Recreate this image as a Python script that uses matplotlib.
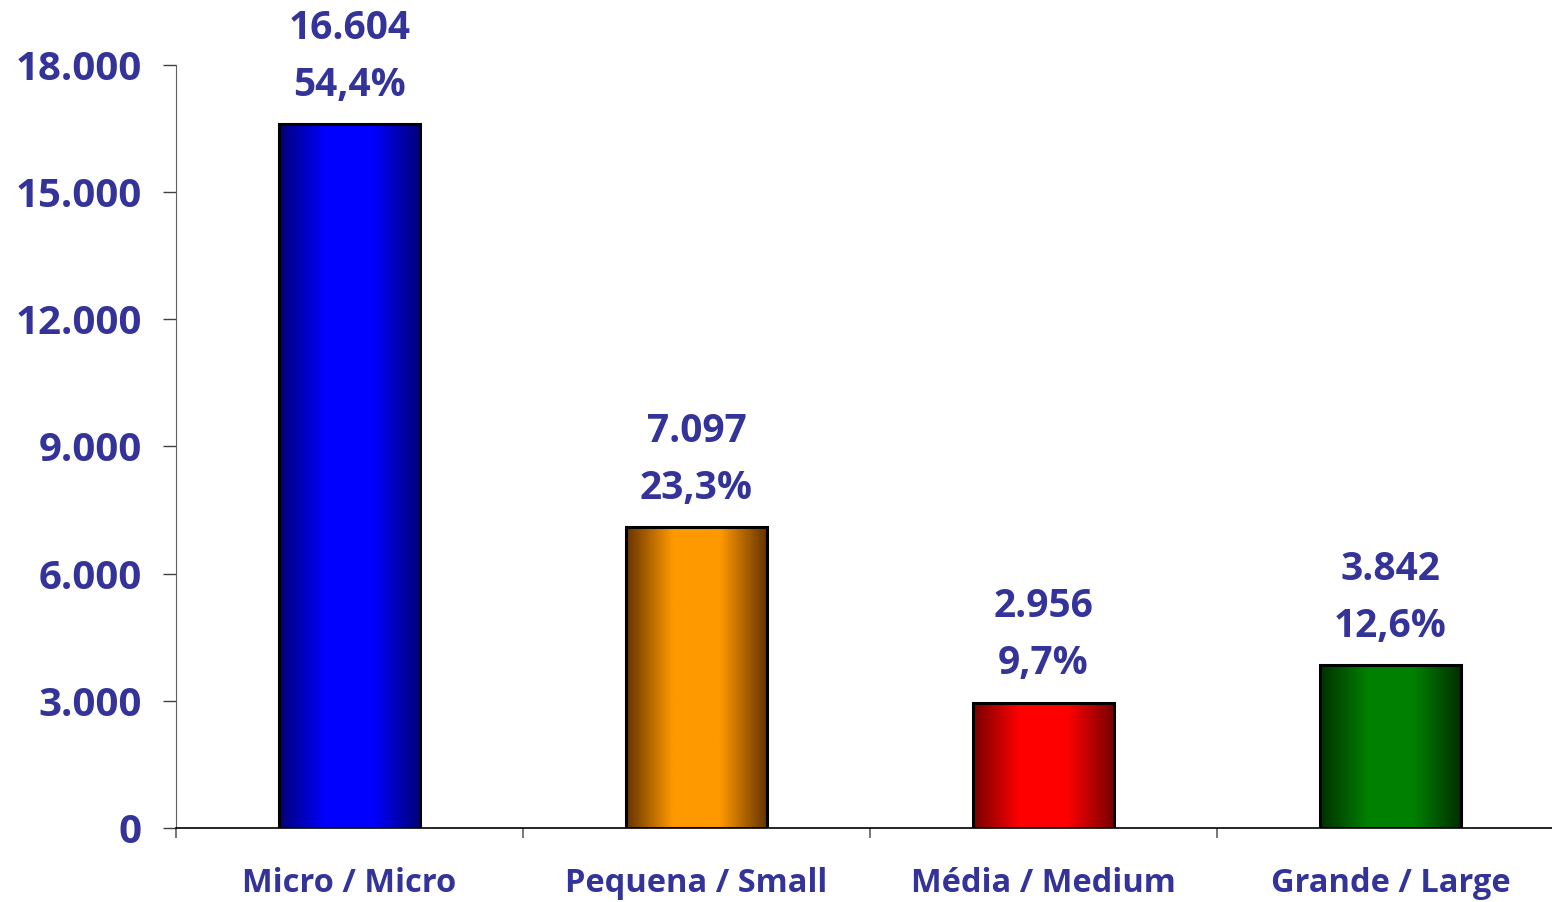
import numpy as np
import matplotlib.pyplot as plt
from matplotlib.colors import LinearSegmentedColormap

plt.rcParams['font.family'] = ['Open Sans', 'DejaVu Sans']
plt.rcParams['font.weight'] = 'bold'

categories = ['Micro / Micro', 'Pequena / Small', 'Média / Medium', 'Grande / Large']
values = [16604, 7097, 2956, 3842]
shares = ['54,4%', '23,3%', '9,7%', '12,6%']
centre_colors = ['#0000ff', '#ff9900', '#ff0000', '#008000']
edge_colors = ['#000078', '#663300', '#780000', '#003000']
yticks = [0, 3000, 6000, 9000, 12000, 15000, 18000]

text_color = '#333399'

fig = plt.figure(figsize=(15.52, 9.02), dpi=100)
ax = fig.add_axes([176/1552, 1-828/902, (1564-176)/1552, (828-65)/902])

x = np.arange(len(categories))
width = 0.406
bars = ax.bar(x, values, width=width, facecolor='none', edgecolor='black',
              linewidth=2.2, zorder=3)

# horizontal gradient inside every bar
grad = np.linspace(0, 1, 256).reshape(1, -1)
for b, c0, c1 in zip(bars, centre_colors, edge_colors):
    cmap = LinearSegmentedColormap.from_list('g', [c1, c0, c0, c1], N=256)
    x0 = b.get_x()
    im = ax.imshow(grad, cmap=cmap, aspect='auto', extent=[x0, x0 + b.get_width(), 0, b.get_height()],
                   zorder=2, interpolation='bicubic')
    im.set_clip_path(b)

for xi, v, s in zip(x, values, shares):
    ax.annotate(s, (xi, v), xytext=(0, 28), textcoords='offset points', ha='center', va='center',
                fontsize=28, color=text_color, fontweight='bold')
    ax.annotate(f'{v:,}'.replace(',', '.'), (xi, v), xytext=(0, 69), textcoords='offset points',
                ha='center', va='center', fontsize=28, color=text_color, fontweight='bold')

ax.set_xlim(-0.5, len(categories) - 0.5)
ax.set_ylim(0, 18000)
ax.set_yticks(yticks)
ax.set_yticklabels([f'{t:,}'.replace(',', '.') for t in yticks])
ax.set_xticks(np.arange(len(categories) + 1) - 0.5)
ax.set_xticklabels([])
ax.set_xticks(x, minor=True)
ax.set_xticklabels(categories, minor=True)

ax.tick_params(axis='y', direction='out', length=9.5, width=1, color='#404040', pad=15,
               labelsize=29, labelcolor=text_color)
ax.tick_params(axis='x', which='major', direction='out', length=7, width=1.2, color='#606060')
ax.tick_params(axis='x', which='minor', length=0, pad=28, labelsize=23.5, labelcolor=text_color)

for sp in ['top', 'right']:
    ax.spines[sp].set_visible(False)
ax.spines['left'].set_color('#606060')
ax.spines['bottom'].set_color('black')
ax.spines['bottom'].set_linewidth(1.2)

fig.savefig('out.png', dpi=100)
